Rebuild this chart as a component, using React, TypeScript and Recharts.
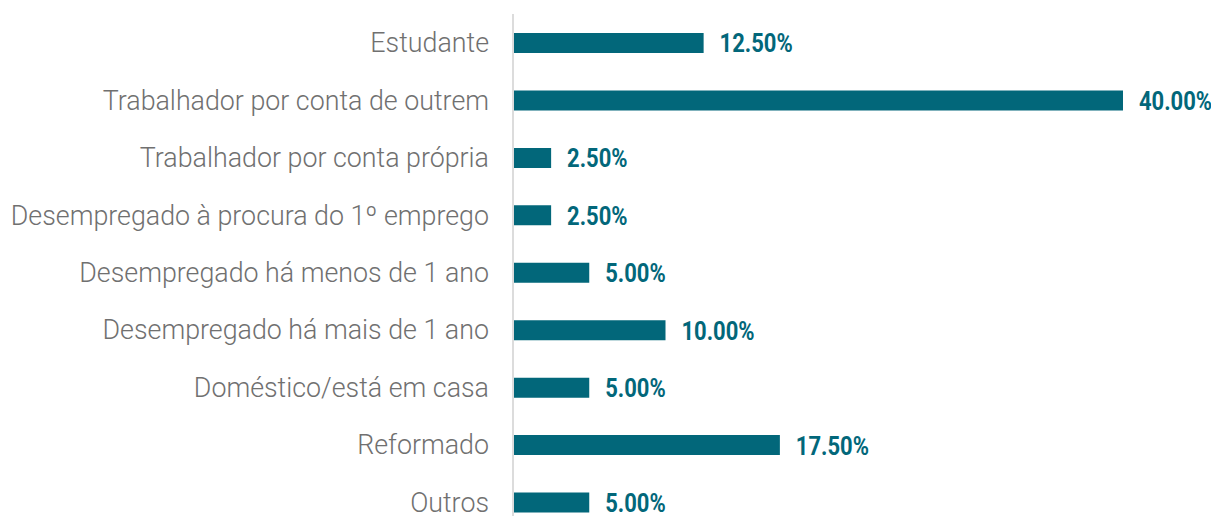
import React from "react";
import { BarChart, Bar, XAxis, YAxis, LabelList } from "recharts";

const categories = [
  "Estudante",
  "Trabalhador por conta de outrem",
  "Trabalhador por conta própria",
  "Desempregado à procura do 1º emprego",
  "Desempregado há menos de 1 ano",
  "Desempregado há mais de 1 ano",
  "Doméstico/está em casa",
  "Reformado",
  "Outros",
];

const percentages = [12.5, 40, 2.5, 2.5, 5, 10, 5, 17.5, 5];

const data = categories.map((name, i) => ({ name, value: percentages[i] }));

const BAR_COLOR = "#02677A";

// condensed bold look: Roboto bold squeezed horizontally
const ValueLabel = (props: any) => {
  const { x, y, width, height, value } = props;
  const tx = x + width + 16;
  const ty = y + height / 2 + 1;
  return (
    <text
      x={tx}
      y={ty}
      dominantBaseline="central"
      transform={`translate(${tx},${ty}) scale(0.88,1) translate(${-tx},${-ty})`}
      fill={BAR_COLOR}
      fontSize={25}
      fontWeight={700}
      fontFamily="Roboto"
    >
      {`${Number(value).toFixed(2)}%`}
    </text>
  );
};

const App = () => {
  return (
    // fill the window down to its bottom edge without making the page scroll
    <div style={{ width: 1211, height: 516, overflow: "hidden", marginBottom: -8 }}>
      <BarChart
        width={1211}
        height={530}
        data={data}
        layout="vertical"
        margin={{ top: 6, right: 96, left: 0, bottom: 7 }}
      >
        <XAxis type="number" domain={[0, 40]} hide />
        <YAxis
          type="category"
          dataKey="name"
          width={505}
          tickLine={false}
          tickSize={0}
          tickMargin={24}
          interval={0}
          axisLine={{ stroke: "#dcdcdc", strokeWidth: 2 }}
          tick={{
            fill: "#707070",
            fontSize: 26.8,
            fontFamily: "Roboto",
            fontWeight: 300,
          }}
        />
        <Bar dataKey="value" fill={BAR_COLOR} barSize={20} isAnimationActive={false}>
          <LabelList dataKey="value" content={<ValueLabel />} />
        </Bar>
      </BarChart>
    </div>
  );
};

export default App;
